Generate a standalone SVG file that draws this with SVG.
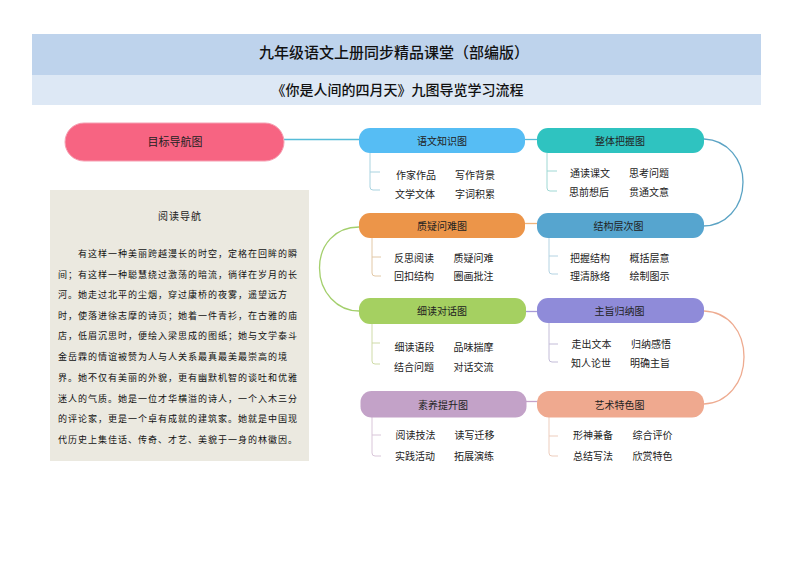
<svg xmlns="http://www.w3.org/2000/svg" width="794" height="561" viewBox="0 0 794 561">
<style>
text{font-family:"Noto Sans CJK SC","Noto Sans",sans-serif;fill:#222}
.h1{font-weight:500;text-anchor:middle;fill:#111}
.n{font-size:10px;text-anchor:middle}
.l{font-size:10px;text-anchor:middle}
.p{font-size:9px;letter-spacing:1px;fill:#111}
.c{fill:none;stroke-width:1.3}
.b{fill:none;stroke-width:1}
</style>
<rect x="32" y="34" width="729" height="41" fill="#bed3ec"/>
<rect x="32" y="75" width="729" height="30" fill="#dde8f5"/>
<text class="h1" x="394" y="58" style="font-size:15px">九年级语文上册同步精品课堂&#xFF08;部编版&#xFF09;</text>
<text class="h1" x="397.500" y="95" style="font-size:14px">《你是人间的四月天》九图导览学习流程</text>
<g id="connectors">
<path class="c" d="M284 139.500H360" stroke="#56bcd8"/>
<path class="c" d="M524 139.500H537" stroke="#56bcd8"/>
<path class="c" d="M704 139C728 140 743 160 743 182C743 208 725 226 703 226" stroke="#5ba3c4"/>
<path class="c" d="M525 223.500H537" stroke="#f0b47c"/>
<path class="c" d="M359 227C335 227 319.500 245 319.500 268C319.500 292 337 311 359 311" stroke="#a3cf6c"/>
<path class="c" d="M526 311.500H537" stroke="#a79ad6"/>
<path class="c" d="M704 311C728 312 744 331 744 357C744 383 727 403 704 404" stroke="#eeab90"/>
<path class="c" d="M526 401.500H537" stroke="#c5a3c9"/>
<path class="b" stroke="#a9d3e0" d="M370 153V187Q370 190 373 190H380M370 172H380"/>
<path class="b" stroke="#9fd8d4" d="M547 153V188Q547 191 550 191H557M547 171H557"/>
<path class="b" stroke="#e2c8a6" d="M372 238V273Q372 276 375 276H381M372 257H381"/>
<path class="b" stroke="#b4d3e2" d="M549 238V271Q549 274 552 274H558M549 256H558"/>
<path class="b" stroke="#cfdba8" d="M372 323V361Q372 364 375 364H380M372 343H380"/>
<path class="b" stroke="#c3bcd8" d="M549 323V359Q549 362 552 362H558M549 344H558"/>
<path class="b" stroke="#d9c6d9" d="M372 417V453Q372 456 375 456H381M372 435H381"/>
<path class="b" stroke="#edcdbd" d="M549 417V453Q549 456 552 456H558M549 436H558"/>
</g>
<g id="goal"><rect x="65" y="123" width="219" height="38" rx="19" fill="#f76482" stroke="#f5a0b2"/><text class="n" x="175" y="145.500" style="font-size:11px">目标导航图</text></g>
<g id="reading">
<rect x="50" y="190" width="259" height="271" fill="#ebe9e0"/>
<text x="180" y="220" text-anchor="middle" style="font-size:10px;letter-spacing:1px" fill="#111">阅读导航</text>
<text class="p" x="78" y="256.500">有这样一种美丽跨越漫长的时空&#xFF0C;定格在回眸的瞬</text>
<text class="p" x="58" y="277.500">间&#xFF1B;有这样一种聪慧绕过激荡的暗流&#xFF0C;徜徉在岁月的长</text>
<text class="p" x="58" y="298">河。她走过北平的尘烟&#xFF0C;穿过康桥的夜雾&#xFF0C;遥望远方</text>
<text class="p" x="58" y="319">时&#xFF0C;使落进徐志摩的诗页&#xFF1B;她着一件青衫&#xFF0C;在古雅的庙</text>
<text class="p" x="58" y="339">店&#xFF0C;低眉沉思时&#xFF0C;便绘入梁思成的图纸&#xFF1B;她与文学泰斗</text>
<text class="p" x="58" y="360">金岳霖的情谊被赞为人与人关系最真最美最崇高的境</text>
<text class="p" x="58" y="381">界。她不仅有美丽的外貌&#xFF0C;更有幽默机智的谈吐和优雅</text>
<text class="p" x="58" y="402">迷人的气质。她是一位才华横溢的诗人&#xFF0C;一个入木三分</text>
<text class="p" x="58" y="422">的评论家&#xFF0C;更是一个卓有成就的建筑家。她就是中国现</text>
<text class="p" x="58" y="443">代历史上集佳话、传奇、才艺、美貌于一身的林徽因。</text>
</g>
<g id="n1"><rect x="359" y="128" width="166" height="25" rx="11" fill="#56bdf4"/><text class="n" x="442" y="145">语文知识图</text>
<text class="l" x="416" y="178.500">作家作品</text><text class="l" x="475" y="178.500">写作背景</text><text class="l" x="415" y="197.500">文学文体</text><text class="l" x="475" y="197.500">字词积累</text></g>
<g id="n2"><rect x="537" y="128" width="167" height="25" rx="11" fill="#2fc3c0"/><text class="n" x="620" y="145">整体把握图</text>
<text class="l" x="590" y="176.500">通读课文</text><text class="l" x="649" y="176.500">思考问题</text><text class="l" x="589" y="195.500">思前想后</text><text class="l" x="649" y="195.500">贯通文意</text></g>
<g id="n3"><rect x="359" y="213" width="166" height="25" rx="11" fill="#ec9549"/><text class="n" x="442" y="229.500">质疑问难图</text>
<text class="l" x="414" y="261.500">反思阅读</text><text class="l" x="473.500" y="261.500">质疑问难</text><text class="l" x="414" y="280">回扣结构</text><text class="l" x="473.500" y="280">圈画批注</text></g>
<g id="n4"><rect x="537" y="213" width="167" height="25" rx="11" fill="#56a5cf"/><text class="n" x="618.500" y="229.500">结构层次图</text>
<text class="l" x="590" y="261.500">把握结构</text><text class="l" x="649.500" y="261.500">概括层意</text><text class="l" x="590" y="280">理清脉络</text><text class="l" x="649.500" y="280">绘制图示</text></g>
<g id="n5"><rect x="359" y="298" width="167" height="26" rx="11" fill="#a5d061"/><text class="n" x="442" y="315">细读对话图</text>
<text class="l" x="414.500" y="350.500">细读语段</text><text class="l" x="473.500" y="350.500">品味揣摩</text><text class="l" x="414" y="370.500">结合问题</text><text class="l" x="473.500" y="370.500">对话交流</text></g>
<g id="n6"><rect x="537" y="298" width="167" height="25" rx="11" fill="#8f8bd9"/><text class="n" x="619.500" y="315">主旨归纳图</text>
<text class="l" x="591.500" y="347.500">走出文本</text><text class="l" x="651" y="347.500">归纳感悟</text><text class="l" x="591" y="366.500">知人论世</text><text class="l" x="650" y="366.500">明确主旨</text></g>
<g id="n7"><rect x="360.500" y="391" width="166" height="26.500" rx="11" fill="#c3a2c8"/><text class="n" x="443" y="408.500">素养提升图</text>
<text class="l" x="415.500" y="438.500">阅读技法</text><text class="l" x="474.500" y="438.500">读写迁移</text><text class="l" x="415" y="459.500">实践活动</text><text class="l" x="474" y="459.500">拓展演练</text></g>
<g id="n8"><rect x="537" y="391" width="167" height="26.500" rx="12" fill="#efa98f"/><text class="n" x="619.500" y="408.500">艺术特色图</text>
<text class="l" x="593" y="438.500">形神兼备</text><text class="l" x="652.500" y="438.500">综合评价</text><text class="l" x="593" y="459.500">总结写法</text><text class="l" x="652.500" y="459.500">欣赏特色</text></g>
</svg>
